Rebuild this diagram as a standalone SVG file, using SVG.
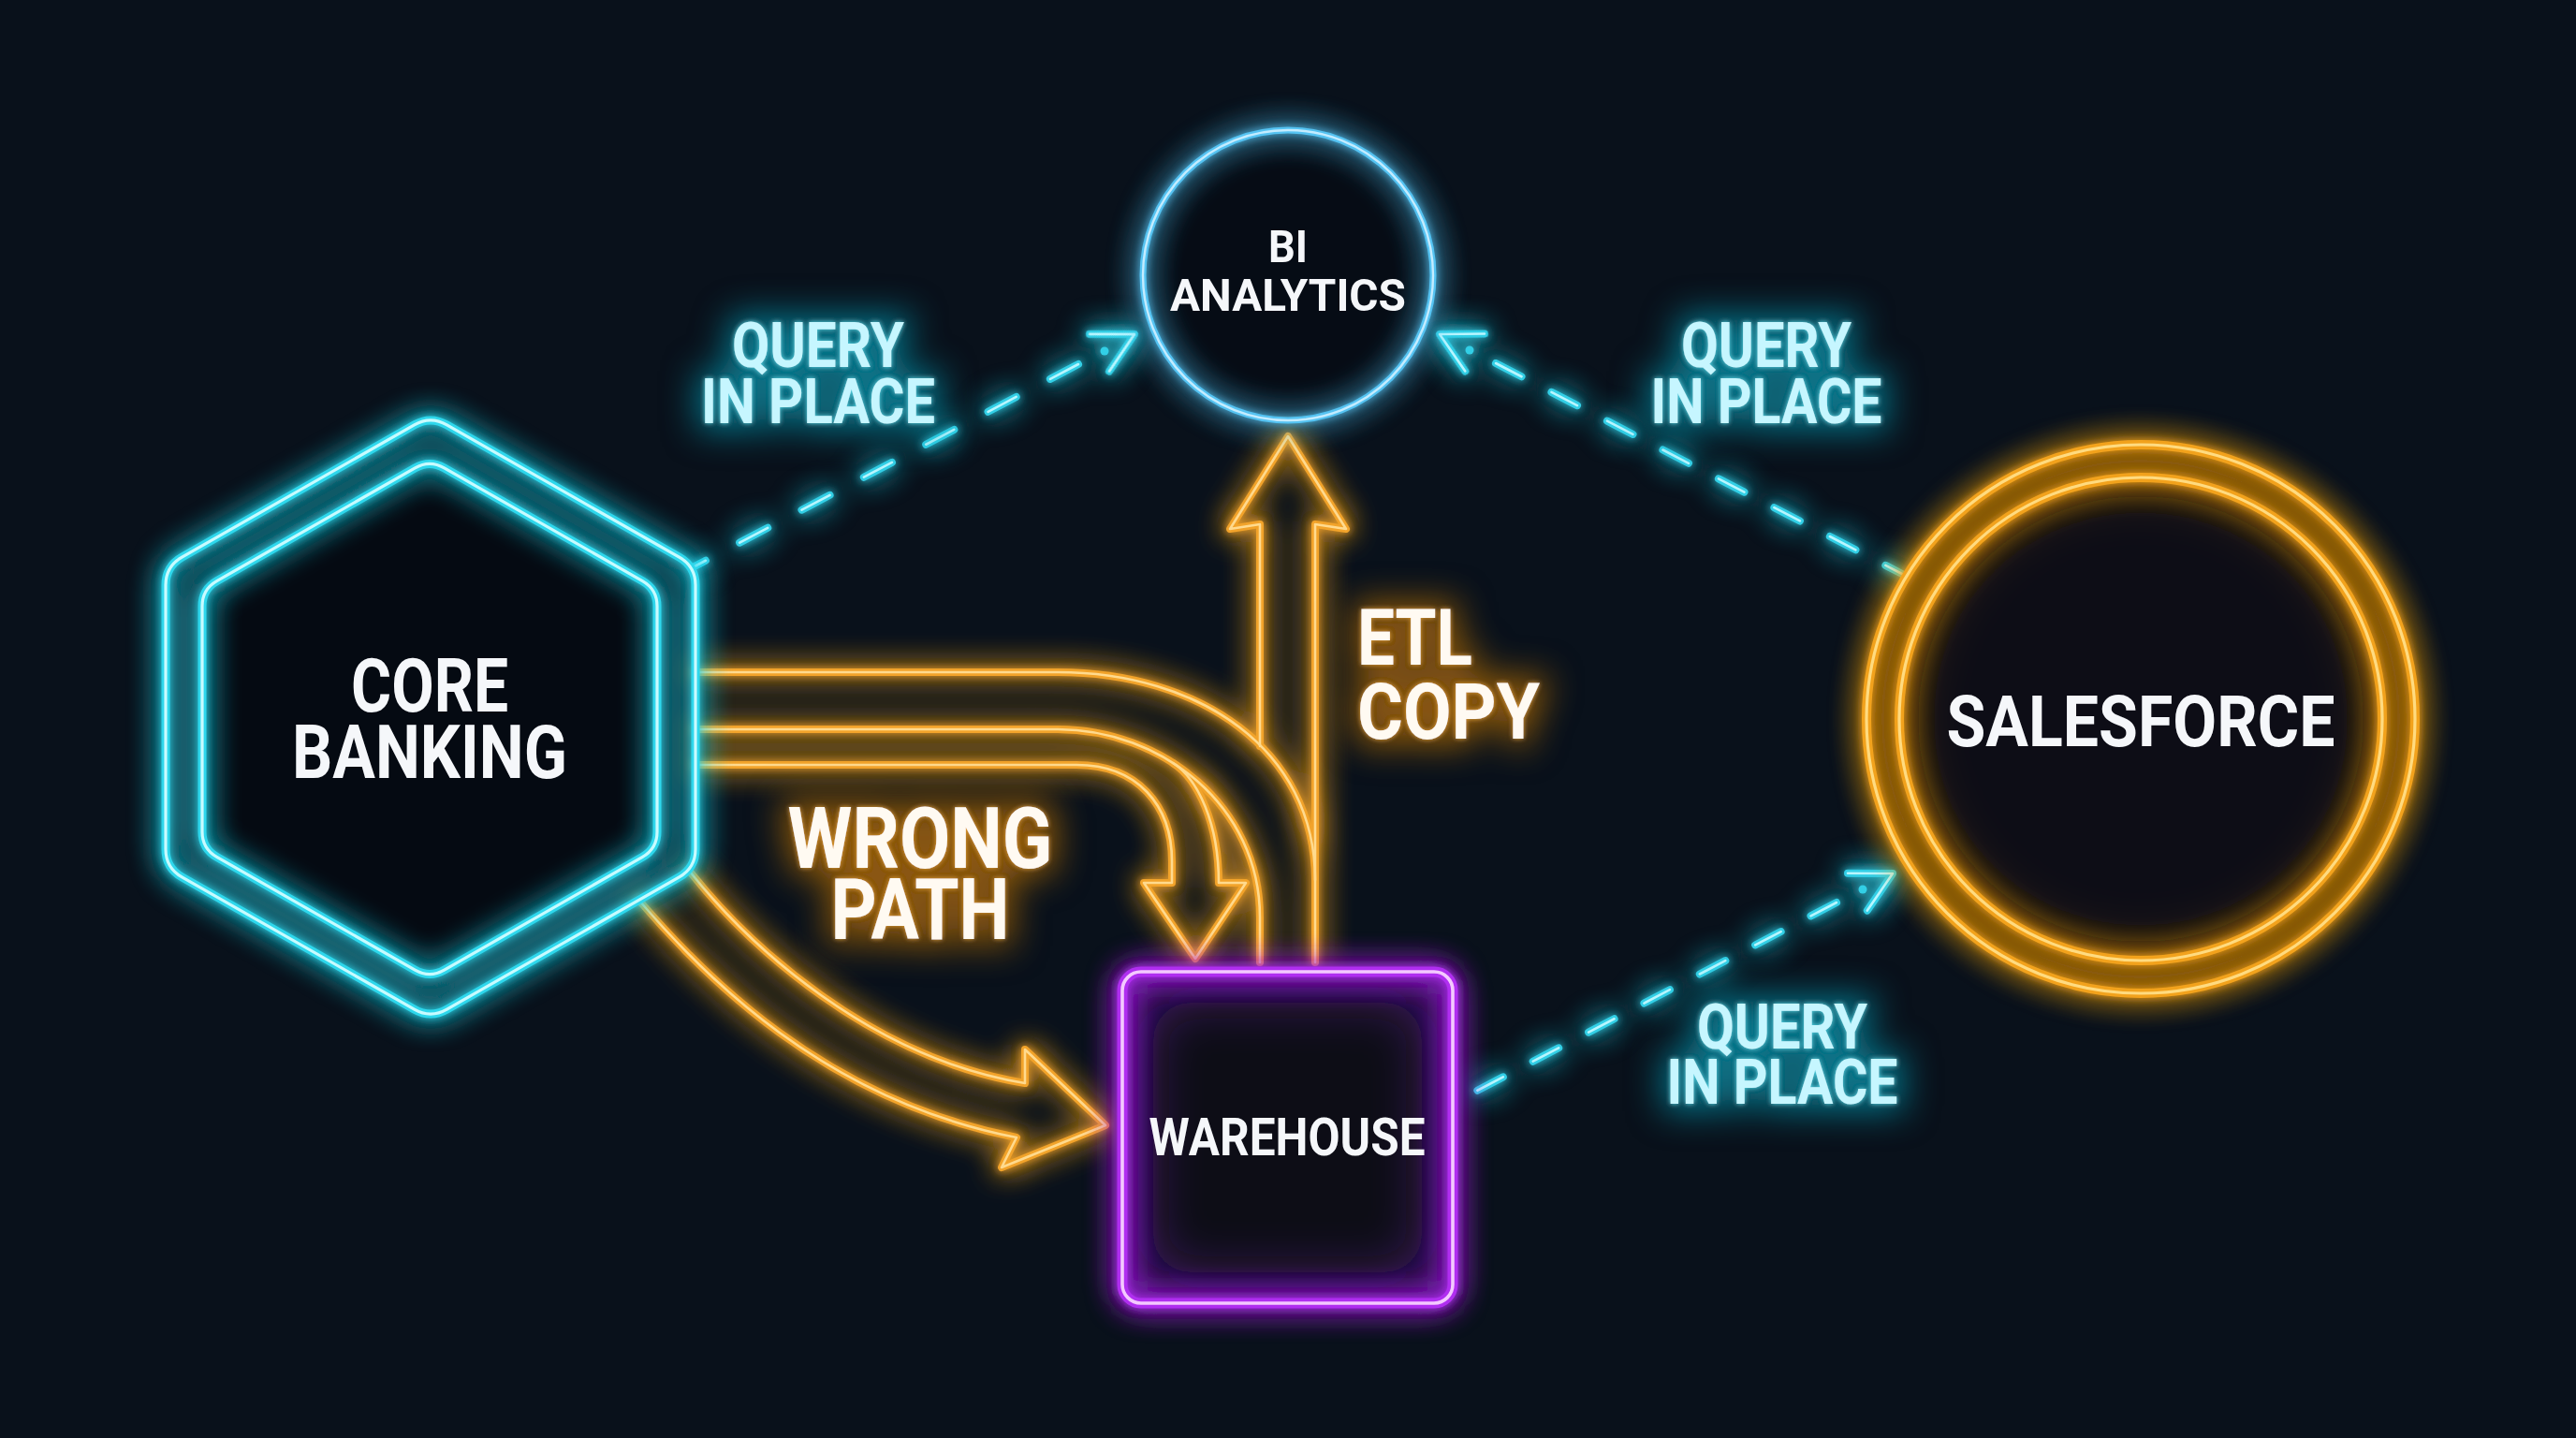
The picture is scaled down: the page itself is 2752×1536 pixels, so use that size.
<svg xmlns="http://www.w3.org/2000/svg" width="2752" height="1536" viewBox="0 0 2752 1536">
<defs>
<style>
.txt{font-family:Roboto,"Liberation Sans",Arial,sans-serif;font-weight:700;}
.node-label{fill:#f5f7fa;}
.query{fill:#c6f6ff;}
.warn{fill:#fffaf2;}
.otube{fill:none;stroke:#f2a32a;stroke-width:8;stroke-linecap:round;stroke-linejoin:round;}
.ocore{fill:none;stroke:#ffda8e;stroke-width:2.6;stroke-linecap:round;stroke-linejoin:round;}
.ctube{fill:none;stroke:#33cfe6;stroke-width:8;stroke-linecap:round;stroke-linejoin:round;}
.ccore{fill:none;stroke:#b9f6ff;stroke-width:2.6;stroke-linecap:round;stroke-linejoin:round;}
.hxtube{fill:none;stroke:#2ed7ec;stroke-width:9;stroke-linejoin:round;}
.hxcore{fill:none;stroke:#c8fbff;stroke-width:3.2;stroke-linejoin:round;}
</style>
<filter id="glowC" filterUnits="userSpaceOnUse" x="0" y="0" width="2752" height="1536">
<feGaussianBlur in="SourceGraphic" stdDeviation="5" result="b1"/>
<feGaussianBlur in="SourceGraphic" stdDeviation="16" result="b2"/>
<feMerge><feMergeNode in="b2"/><feMergeNode in="b2"/><feMergeNode in="b1"/><feMergeNode in="SourceGraphic"/></feMerge>
</filter>
<filter id="soft" filterUnits="userSpaceOnUse" x="0" y="0" width="2752" height="1536">
<feGaussianBlur stdDeviation="26"/>
</filter>
<filter id="tgC" filterUnits="userSpaceOnUse" x="0" y="0" width="2752" height="1536">
<feMorphology in="SourceAlpha" operator="dilate" radius="8" result="d"/>
<feGaussianBlur in="d" stdDeviation="18" result="b"/>
<feFlood flood-color="#0e9fb8" flood-opacity="0.7"/>
<feComposite in2="b" operator="in" result="g"/>
<feGaussianBlur in="SourceAlpha" stdDeviation="2.5" result="b2"/>
<feFlood flood-color="#5ae8f8" flood-opacity="0.9"/>
<feComposite in2="b2" operator="in" result="g2"/>
<feMerge><feMergeNode in="g"/><feMergeNode in="g2"/><feMergeNode in="SourceGraphic"/></feMerge>
</filter>
<filter id="tgO" filterUnits="userSpaceOnUse" x="0" y="0" width="2752" height="1536">
<feMorphology in="SourceAlpha" operator="dilate" radius="8" result="d"/>
<feGaussianBlur in="d" stdDeviation="18" result="b"/>
<feFlood flood-color="#b8700c" flood-opacity="0.75"/>
<feComposite in2="b" operator="in" result="g"/>
<feGaussianBlur in="SourceAlpha" stdDeviation="2.5" result="b2"/>
<feFlood flood-color="#ffb43a" flood-opacity="0.8"/>
<feComposite in2="b2" operator="in" result="g2"/>
<feMerge><feMergeNode in="g"/><feMergeNode in="g2"/><feMergeNode in="SourceGraphic"/></feMerge>
</filter>
<path id="dTL" d="M 1152 389 L 742 605"/>
<path id="dTR" d="M 1598 388 L 2032 613"/>
<path id="dBR" d="M 1962 964 L 1576 1166"/>
<g id="ah"><path d="M -42.4 -22.5 L 0 0 L -42.4 22.5"/></g>
<path id="oETL" d="M 1346 797 L 1346 560 L 1314 565 L 1376 466 L 1438 565 L 1405 560 L 1405 1028"/>
<path id="oA" d="M 744 718 L 1130 718 C 1280 718 1405 800 1405 940"/>
<path id="oB" d="M 744 779 L 1130 779 C 1240 779 1346 860 1346 980 L 1346 1028"/>
<path id="oC" d="M 744 817 L 1150 817 C 1215 817 1252 860 1252 920 L 1252 943 L 1222 943 L 1277 1024 L 1331 943 L 1302 943 C 1302 880 1280 832 1253 815"/>
<path id="oBig" d="M 737 931 C 800 1010 930 1130 1095 1157 L 1095 1121 L 1181 1202 L 1070 1247 L 1086 1215 C 880 1175 750 1040 683 962"/>
<path id="hexO" d="M 442.6 453.9 Q 460 444 477.4 453.9 L 725.6 595.1 Q 743 605 743 625 L 743 907 Q 743 927 725.6 936.9 L 477.4 1078.1 Q 460 1088 442.6 1078.1 L 194.4 936.9 Q 177 927 177 907 L 177 625 Q 177 605 194.4 595.1 Z"/>
<path id="hexI" d="M 443.4 499.9 Q 459 491 474.6 499.9 L 686.4 620.6 Q 702 629.5 702 647.5 L 702 888.5 Q 702 906.5 686.4 915.4 L 474.6 1036.1 Q 459 1045 443.4 1036.1 L 231.6 915.4 Q 216 906.5 216 888.5 L 216 647.5 Q 216 629.5 231.6 620.6 Z"/>
</defs>

<rect x="0" y="0" width="2752" height="1536" fill="#09111b"/>

<g id="connectors">
  <g id="orange-glow" filter="url(#glowC)">
    <use href="#oBig" class="otube"/>
    <use href="#oA" class="otube"/>
    <use href="#oB" class="otube"/>
    <use href="#oC" class="otube"/>
    <use href="#oETL" class="otube"/>
  </g>
  <g id="orange-core">
    <use href="#oBig" class="ocore"/>
    <use href="#oA" class="ocore"/>
    <use href="#oB" class="ocore"/>
    <use href="#oC" class="ocore"/>
    <use href="#oETL" class="ocore"/>
  </g>
  <g id="cyan-glow" filter="url(#glowC)">
    <use href="#dTL" class="ctube" stroke-dasharray="34 41"/>
    <use href="#dTR" class="ctube" stroke-dasharray="31 36"/>
    <use href="#dBR" class="ctube" stroke-dasharray="31 36"/>
    <g class="ctube" stroke-width="7">
      <use href="#ah" transform="translate(1212 357) rotate(-27.8)"/>
      <use href="#ah" transform="translate(1538 357) rotate(207.4)"/>
      <use href="#ah" transform="translate(2022 933) rotate(-27.6)"/>
    </g>
    <g fill="#33cfe6">
      <circle cx="1180" cy="375" r="4.5"/>
      <circle cx="1570" cy="374" r="4.5"/>
      <circle cx="1990" cy="950" r="4.5"/>
    </g>
  </g>
  <g id="cyan-core">
    <use href="#dTL" class="ccore" stroke-dasharray="34 41"/>
    <use href="#dTR" class="ccore" stroke-dasharray="31 36"/>
    <use href="#dBR" class="ccore" stroke-dasharray="31 36"/>
    <g class="ccore" stroke-width="2.2">
      <use href="#ah" transform="translate(1212 357) rotate(-27.8)"/>
      <use href="#ah" transform="translate(1538 357) rotate(207.4)"/>
      <use href="#ah" transform="translate(2022 933) rotate(-27.6)"/>
    </g>
  </g>
  <g id="connector-labels" class="txt">
    <g filter="url(#tgC)" class="query" font-size="66" text-anchor="middle">
      <text><tspan x="874" y="392" textLength="184" lengthAdjust="spacingAndGlyphs">QUERY</tspan><tspan x="874" y="452" textLength="250" lengthAdjust="spacingAndGlyphs">IN PLACE</tspan></text>
      <text><tspan x="1887" y="392" textLength="182" lengthAdjust="spacingAndGlyphs">QUERY</tspan><tspan x="1887" y="452" textLength="247" lengthAdjust="spacingAndGlyphs">IN PLACE</tspan></text>
      <text><tspan x="1904" y="1120" textLength="182" lengthAdjust="spacingAndGlyphs">QUERY</tspan><tspan x="1904" y="1179" textLength="247" lengthAdjust="spacingAndGlyphs">IN PLACE</tspan></text>
    </g>
    <g filter="url(#tgO)" class="warn">
      <text font-size="90" text-anchor="middle"><tspan x="983" y="927" textLength="283" lengthAdjust="spacingAndGlyphs">WRONG</tspan><tspan x="983" y="1003" textLength="191" lengthAdjust="spacingAndGlyphs">PATH</tspan></text>
      <text font-size="83"><tspan x="1450" y="710" textLength="123" lengthAdjust="spacingAndGlyphs">ETL</tspan><tspan x="1450" y="789" textLength="195" lengthAdjust="spacingAndGlyphs">COPY</tspan></text>
    </g>
  </g>
</g>

<g id="node-core-banking">
  <use href="#hexI" fill="#050a12"/>
  <g filter="url(#glowC)">
    <use href="#hexO" class="hxtube"/>
    <use href="#hexI" class="hxtube"/>
  </g>
  <use href="#hexO" class="hxcore"/>
  <use href="#hexI" class="hxcore"/>
  <text class="txt node-label" font-size="79" text-anchor="middle"><tspan x="459" y="760" textLength="168" lengthAdjust="spacingAndGlyphs">CORE</tspan><tspan x="459" y="831" textLength="294" lengthAdjust="spacingAndGlyphs">BANKING</tspan></text>
</g>

<g id="node-bi-analytics">
  <circle cx="1376" cy="294" r="150" fill="#060c15"/>
  <circle cx="1376" cy="294" r="155" fill="none" stroke="#55c3f2" stroke-width="7" filter="url(#glowC)"/>
  <circle cx="1376" cy="294" r="155" fill="none" stroke="#c4ecff" stroke-width="2.4"/>
  <text class="txt node-label" font-size="48" text-anchor="middle"><tspan x="1376" y="280" textLength="42" lengthAdjust="spacingAndGlyphs">BI</tspan><tspan x="1376" y="332" textLength="252" lengthAdjust="spacingAndGlyphs">ANALYTICS</tspan></text>
</g>

<g id="node-warehouse">
  <rect x="1199" y="1038" width="353" height="354" rx="20" fill="#34105a"/>
  <rect x="1232" y="1071" width="287" height="288" rx="40" fill="#080b18" filter="url(#soft)"/>
  <rect x="1199" y="1038" width="353" height="354" rx="20" fill="none" stroke="#b02ff0" stroke-width="11" filter="url(#glowC)"/>
  <rect x="1199" y="1038" width="353" height="354" rx="20" fill="none" stroke="#f4c9ff" stroke-width="3.6"/>
  <text class="txt node-label" x="1375" y="1234" font-size="55" text-anchor="middle" textLength="295" lengthAdjust="spacingAndGlyphs">WAREHOUSE</text>
</g>

<g id="node-salesforce">
  <circle cx="2287" cy="768" r="293" fill="#2a1a08"/>
  <circle cx="2287" cy="768" r="238" fill="#070d16" filter="url(#soft)"/>
  <g filter="url(#glowC)" fill="none" stroke="#f2a21e" stroke-width="10">
    <circle cx="2287" cy="768" r="293"/>
    <circle cx="2287" cy="768" r="258"/>
  </g>
  <g fill="none" stroke="#ffdb80" stroke-width="3.2">
    <circle cx="2287" cy="768" r="293"/>
    <circle cx="2287" cy="768" r="258"/>
  </g>
  <text class="txt node-label" x="2287" y="797" font-size="76" text-anchor="middle" textLength="415" lengthAdjust="spacingAndGlyphs">SALESFORCE</text>
</g>
</svg>
